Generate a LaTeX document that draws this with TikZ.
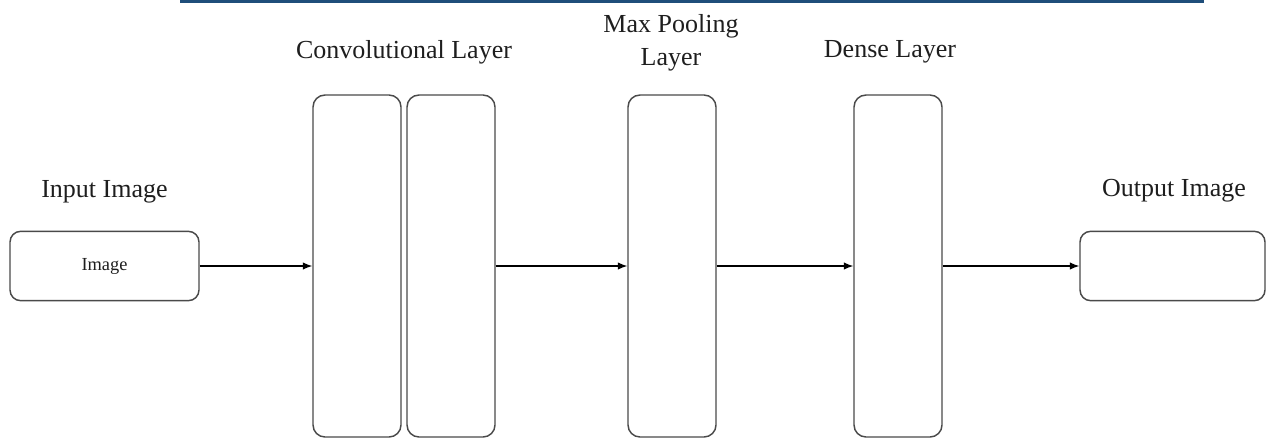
\documentclass[tikz,border=0pt]{standalone}
\usepackage{fontspec}
\setmainfont{Liberation Serif}
\usetikzlibrary{arrows.meta}
\definecolor{rulebar}{HTML}{1F4E7A}
\definecolor{boxline}{HTML}{4A4A4A}
\definecolor{labeltext}{HTML}{1E1E1E}
\tikzset{
  layerbox/.style={draw=boxline, line width=1.1pt, rounded corners=9pt, fill=white,
    minimum width=66pt, minimum height=256.5pt, inner sep=0pt},
  imgbox/.style={draw=boxline, line width=1.1pt, rounded corners=8pt, fill=white,
    minimum height=52pt, inner sep=0pt},
  heading/.style={text=labeltext, font=\fontsize{19.5}{24.75}\selectfont, anchor=base, inner sep=0pt},
  flow/.style={draw=black, line width=0.9pt, -{Latex[length=7pt,width=5.5pt]}}
}
\begin{document}
\begin{tikzpicture}[x=0.75pt,y=-0.75pt]
  \useasboundingbox (0,0) rectangle (1267,443);
  % top rule
  \fill[rulebar] (180,0) rectangle (1204,2.6);

  % boxes
  \node[imgbox, minimum width=141.75pt, font=\fontsize{13.8}{16}\selectfont, text=labeltext] (in) at (104.5,266) {Image};
  \node[layerbox] (c1) at (357,266) {};
  \node[layerbox] (c2) at (451,266) {};
  \node[layerbox] (mp) at (672,266) {};
  \node[layerbox] (de) at (898,266) {};
  \node[imgbox, minimum width=138.75pt] (out) at (1172.5,266) {};

  % headings
  \node[heading] (hin) at (104.5,197) {Input Image};
  \node[heading] (hconv) at (404,58) {Convolutional Layer};
  \node[heading] (hmp) at (671,32) {\begin{tabular}[t]{@{}c@{}}Max Pooling\\Layer\end{tabular}};
  \node[heading] (hde) at (890,57) {Dense Layer};
  \node[heading] (hout) at (1174,196) {Output Image};

  % connectors
  \draw[flow] (in.east) -- (c1.west);
  \draw[flow] (c2.east) -- (mp.west);
  \draw[flow] (mp.east) -- (de.west);
  \draw[flow] (de.east) -- (out.west);
\end{tikzpicture}
\end{document}
